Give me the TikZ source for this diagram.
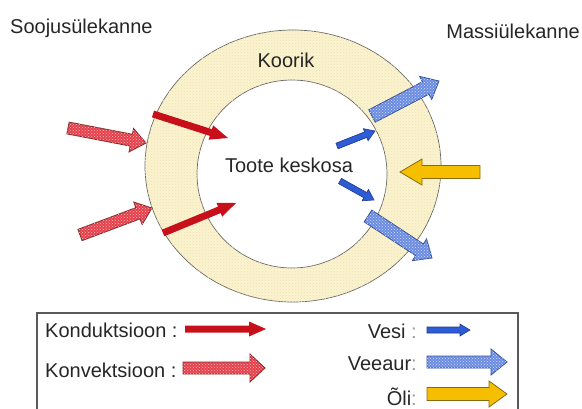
\documentclass[tikz,border=0pt]{standalone}
\usepackage{fontspec}
\setmainfont{Liberation Sans}
\usepackage{xcolor}
\usepackage{tikz}
\usetikzlibrary{positioning, calc, patterns}

\definecolor{shell}{HTML}{FBF3D0}
\definecolor{shelldot}{HTML}{F0E2B0}
\definecolor{conductred}{HTML}{C8101A}
\definecolor{convectred}{HTML}{E5404C}
\definecolor{convectline}{HTML}{7A2A2A}
\definecolor{waterblue}{HTML}{2E5BD6}
\definecolor{waterline}{HTML}{1E3A8A}
\definecolor{vapourblue}{HTML}{6A8DE2}
\definecolor{vapourline}{HTML}{34509A}
\definecolor{oilyellow}{HTML}{F5BF00}
\definecolor{oilline}{HTML}{8A6A10}

% block arrow: style, tail, tip, shaft half width, head half width, head length
\newcommand{\blockarrow}[6]{%
  \coordinate (neck) at ($(#3)!#6!(#2)$);
  \path[#1] ($(#2)!#4!90:(#3)$) -- ($(neck)!#4!90:(#3)$) -- ($(neck)!#5!90:(#3)$) -- (#3)
    -- ($(neck)!#5!-90:(#3)$) -- ($(neck)!#4!-90:(#3)$) -- ($(#2)!#4!-90:(#3)$) -- cycle;
}

\begin{document}
\begin{tikzpicture}[
        x=1pt, y=-1pt,
        font=\fontsize{20}{24}\selectfont,
        ring/.style={draw=black!60, line width=0.7pt, fill=shell, even odd rule,
            postaction={pattern=crosshatch dots, pattern color=shelldot}},
        conduct/.style={fill=conductred},
        convect/.style={draw=convectline, line width=0.8pt, fill=convectred,
            postaction={pattern=crosshatch dots, pattern color=red!25}},
        water/.style={draw=waterline, line width=0.6pt, fill=waterblue},
        vapour/.style={draw=vapourline, line width=0.8pt, fill=vapourblue,
            postaction={pattern=crosshatch dots, pattern color=white!85!blue}},
        oil/.style={draw=oilline, line width=0.8pt, fill=oilyellow},
        label/.style={text=black!85, inner sep=0pt},
    ]
        \useasboundingbox (0,0) rectangle (582,408);

        % Ring
        \path[ring] (293,166) ellipse [x radius=148, y radius=136]
                    (292,174) ellipse [x radius=95, y radius=94];

        % Titles
        \node[label, anchor=base west] (heat) at (10,33) {Soojusülekanne};
        \node[label, anchor=base east] (mass) at (580,38) {Massiülekanne};
        \node[label, anchor=base] (shellname) at (286,67) {Koorik};
        \node[label, anchor=base] (core) at (289,172) {Toote keskosa};

        % Heat transfer
        \coordinate (cv1a) at (68,128);  \coordinate (cv1b) at (146,143);
        \coordinate (cv2a) at (80,235);  \coordinate (cv2b) at (152,208);
        \coordinate (cd1a) at (153,114); \coordinate (cd1b) at (228,138);
        \coordinate (cd2a) at (163,233); \coordinate (cd2b) at (236,203);
        \blockarrow{convect}{cv1a}{cv1b}{6pt}{12pt}{15pt}
        \blockarrow{convect}{cv2a}{cv2b}{6pt}{12pt}{15pt}
        \blockarrow{conduct}{cd1a}{cd1b}{3.5pt}{7.5pt}{18pt}
        \blockarrow{conduct}{cd2a}{cd2b}{3.5pt}{7.5pt}{18pt}

        % Mass transfer
        \coordinate (wt1a) at (337,146); \coordinate (wt1b) at (375,131);
        \coordinate (wt2a) at (340,181); \coordinate (wt2b) at (374,200);
        \coordinate (vp1a) at (372,116); \coordinate (vp1b) at (439,81);
        \coordinate (vp2a) at (368,216); \coordinate (vp2b) at (432,258);
        \coordinate (oila) at (480,172); \coordinate (oilb) at (400,172);
        \blockarrow{water}{wt1a}{wt1b}{3pt}{6.5pt}{10pt}
        \blockarrow{water}{wt2a}{wt2b}{3pt}{6.5pt}{10pt}
        \blockarrow{vapour}{vp1a}{vp1b}{7pt}{13pt}{15pt}
        \blockarrow{vapour}{vp2a}{vp2b}{7pt}{13pt}{15pt}
        \blockarrow{oil}{oila}{oilb}{6.5pt}{13pt}{22pt}

        % Legend
        \draw[black!65, line width=1.5pt] (37,313) rectangle (518,420);
        \node[label, anchor=base west] (kond) at (45,337) {Konduktsioon :};
        \node[label, anchor=base west] (konv) at (45,377) {Konvektsioon :};
        \node[label, anchor=base east] (vesi) at (417,338) {Vesi \textcolor{black!40}{:}};
        \node[label, anchor=base east] (veeaur) at (417,370) {Veeaur\textcolor{black!40}{:}};
        \node[label, anchor=base east] (oli) at (417,405) {Õli\textcolor{black!40}{:}};
        \coordinate (kda) at (185,329); \coordinate (kdb) at (266,329);
        \coordinate (kva) at (183,368); \coordinate (kvb) at (265,368);
        \coordinate (vsa) at (427,330); \coordinate (vsb) at (470,330);
        \coordinate (vra) at (427,362); \coordinate (vrb) at (507,362);
        \coordinate (ola) at (427,394); \coordinate (olb) at (507,394);
        \blockarrow{conduct}{kda}{kdb}{3.5pt}{7.5pt}{17pt}
        \blockarrow{convect}{kva}{kvb}{6pt}{14pt}{15pt}
        \blockarrow{water}{vsa}{vsb}{3pt}{6pt}{10pt}
        \blockarrow{vapour}{vra}{vrb}{6pt}{13pt}{16pt}
        \blockarrow{oil}{ola}{olb}{6.5pt}{13pt}{18pt}

    \end{tikzpicture}
\end{document}
